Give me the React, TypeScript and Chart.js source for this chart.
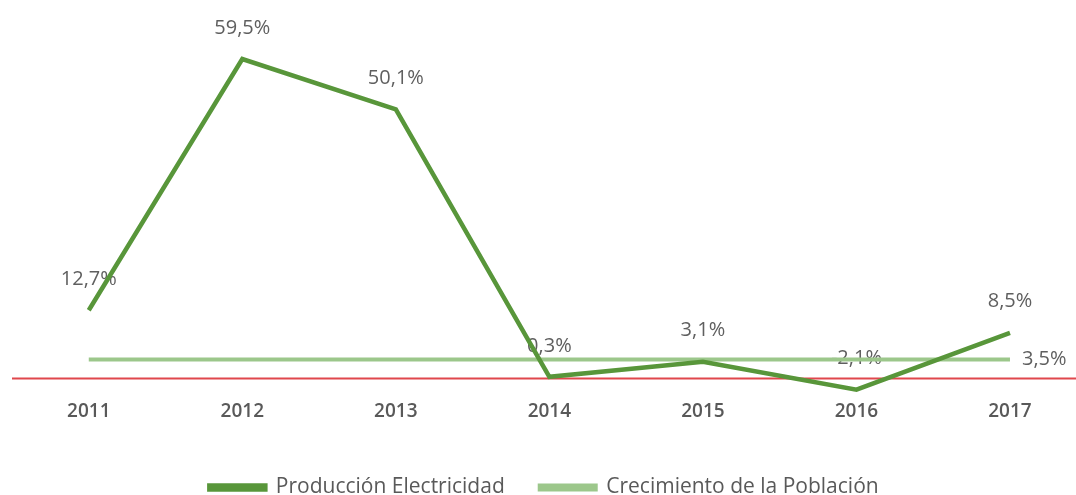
import React, { useEffect, useRef } from "react";
import { Chart, registerables } from "chart.js";

Chart.register(...registerables);

const years = [2011, 2012, 2013, 2014, 2015, 2016, 2017];
const produccion = [12.7, 59.5, 50.1, 0.3, 3.1, -2.1, 8.5];
const poblacion = [3.5, 3.5, 3.5, 3.5, 3.5, 3.5, 3.5];
const seriesNames = ["Producción Electricidad", "Crecimiento de la Población"];
const xRange = [2010.5, 2017.43];

const fmt = (v: number) => v.toFixed(1).replace(".", ",") + "%";

const labelPlugin = {
  id: "valueLabels",
  beforeDatasetsDraw(chart: any) {
    const ctx = chart.ctx;
    ctx.save();
    ctx.font = "20px 'Open Sans', sans-serif";
    ctx.fillStyle = "#5f5f5f";
    ctx.textAlign = "center";
    ctx.textBaseline = "middle";
    const meta0 = chart.getDatasetMeta(0);
    meta0.data.forEach((pt: any, i: number) => {
      ctx.fillText(fmt(produccion[i]), pt.x, pt.y - 31);
    });
    const meta1 = chart.getDatasetMeta(1);
    const last = meta1.data[meta1.data.length - 1];
    ctx.textAlign = "left";
    ctx.fillText(fmt(poblacion[poblacion.length - 1]), last.x + 12, last.y);
    ctx.restore();
  },
};

export default function App() {
  const ref = useRef<HTMLCanvasElement>(null);
  useEffect(() => {
    if (!ref.current) return;
    const chart = new Chart(ref.current, {
      type: "line",
      data: {
        datasets: [
          {
            label: seriesNames[0],
            data: years.map((y, i) => ({ x: y, y: produccion[i] })),
            borderColor: "#58963a",
            backgroundColor: "#58963a",
            borderWidth: 4.5,
            pointRadius: 0,
            tension: 0,
            order: 1,
          },
          {
            label: seriesNames[1],
            data: years.map((y, i) => ({ x: y, y: poblacion[i] })),
            borderColor: "#9cc78b",
            backgroundColor: "#9cc78b",
            borderWidth: 4,
            pointRadius: 0,
            order: 2,
          },
          {
            label: "zero",
            data: [
              { x: xRange[0], y: 0 },
              { x: xRange[1], y: 0 },
            ],
            borderColor: "#e0474c",
            backgroundColor: "#e0474c",
            borderWidth: 2,
            pointRadius: 0,
            order: 3,
          },
        ],
      },
      options: {
        animation: false,
        responsive: false,
        maintainAspectRatio: false,
        layout: { padding: { left: 12, right: 0, top: 29.5, bottom: 0 } },
        scales: {
          x: {
            type: "linear",
            min: xRange[0],
            max: xRange[1],
            afterBuildTicks: (axis: any) => {
              axis.ticks = years.map((v) => ({ value: v }));
            },
            afterFit: (axis: any) => {
              axis.height += 16;
            },
            grid: { display: false, drawTicks: false },
            border: { display: false },
            ticks: {
              color: "#595959",
              font: { family: "'Open Sans', sans-serif", size: 19, weight: "600" },
              padding: 3,
              maxRotation: 0,
              callback: (v: any) => String(v),
            },
          },
          y: {
            display: false,
            min: -3.5,
            max: 65,
          },
        },
        plugins: {
          legend: {
            position: "bottom",
            labels: {
              filter: (item: any) => item.datasetIndex < 2,
              boxWidth: 56,
              boxHeight: 4,
              color: "#595959",
              font: { family: "'Open Sans', sans-serif", size: 21 },
              padding: 35,
            },
          },
          tooltip: { enabled: false },
        },
      },
      plugins: [labelPlugin],
    });
    return () => chart.destroy();
  }, []);
  return (
    <div style={{ position: "absolute", left: 0, top: 0, width: 1076, height: 495, overflow: "hidden", background: "#fff" }}>
      <canvas ref={ref} width={1076} height={508} style={{ display: "block" }} />
    </div>
  );
}
